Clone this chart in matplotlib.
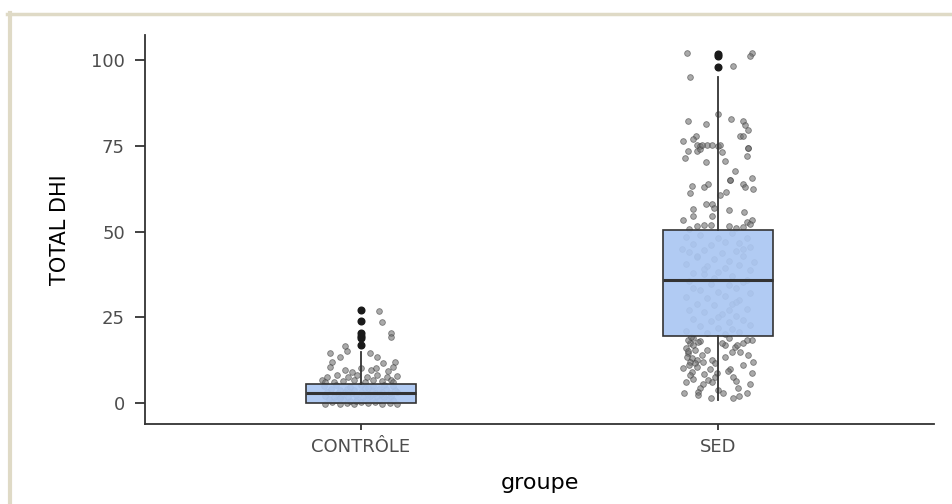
import matplotlib.pyplot as plt
from matplotlib.lines import Line2D

# groups and box statistics
groups = ['CONTRÔLE', 'SED']
q1 = [0, 19.5]
med = [3, 36]
q3 = [5.5, 50.5]
whis_lo = [0, 1]
whis_hi = [15, 95]
fliers = [[17, 19, 19.6, 20.3, 24, 27], [98, 101.3, 101.8]]

# jittered points: horizontal offset from the group centre and value
ctrl_dx = [0.051, 0.058, 0.083, 0.083, -0.045, -0.040, -0.087, -0.059, 0.025, 0.044,
           -0.082, -0.087, 0.062, 0.095, 0.090, -0.045, -0.026, 0.0, 0.029, 0.043, 0.076,
           -0.096, -0.068, -0.035, -0.012, 0.016, 0.044, 0.072, 0.1,
           -0.11, -0.077, -0.05, -0.02, 0.01, 0.035, 0.06, 0.085, -0.1, 0.09,
           -0.1, -0.08, -0.06, -0.04, -0.02, 0.0, 0.02, 0.04, 0.06, 0.08, 0.1,
           -0.09, -0.07, -0.05, -0.03, -0.01, 0.01, 0.03, 0.05, 0.07, 0.09,
           -0.1, -0.075, -0.055, -0.035, -0.015, 0.005, 0.025, 0.045, 0.065, 0.085,
           -0.095, -0.065, -0.045, -0.025, 0.0, 0.02, 0.04, 0.06, 0.08, 0.1,
           -0.085, -0.06, -0.04, -0.02, 0.01, 0.03, 0.05, 0.07, 0.095,
           -0.105, -0.07, -0.03, 0.0, 0.035, 0.065, 0.09,
           -0.06, 0.02, 0.055, -0.015]
ctrl_y = [26.9, 23.5, 20.3, 19.2, 16.6, 15.2, 14.7, 13.3, 14.7, 13.3,
          12.0, 10.4, 11.6, 12.0, 10.4, 9.6, 9.1, 10.1, 9.6, 10.1, 9.4,
          7.7, 8.2, 7.7, 8.2, 7.7, 8.2, 7.7, 8.0,
          6.7, 6.2, 6.5, 6.7, 6.2, 6.8, 6.5, 6.7, 6.0, 6.0,
          -0.3, 0.2, -0.2, 0.1, -0.3, 0.3, -0.1, 0.2, -0.3, 0.1, -0.2,
          1.2, 0.8, 1.1, 0.7, 1.3, 0.9, 1.2, 0.8, 1.1, 0.9,
          2.1, 1.8, 2.2, 1.9, 2.3, 1.7, 2.0, 2.2, 1.8, 2.1,
          3.2, 2.8, 3.1, 2.9, 3.3, 2.7, 3.0, 3.2, 2.8, 3.1,
          4.1, 3.8, 4.2, 3.9, 4.3, 3.7, 4.0, 4.2, 3.8,
          5.0, 5.3, 4.8, 5.2, 4.9, 5.4, 5.1,
          1.5, 4.5, 2.5, 0.5]

sed_dx = [-0.087, 0.094, 0.090, 0.041, -0.078, 0.0, -0.083, -0.034, 0.036, 0.069,
          0.076, 0.085, 0.062, 0.071, -0.062, -0.069, -0.099, 0.085, 0.085, -0.06,
          -0.05, -0.03, 0.0, -0.084, -0.06, -0.05, -0.046, -0.018, 0.006, -0.092,
          -0.034, 0.01, 0.02, 0.08, 0.048, 0.094, 0.034, 0.034, -0.074, -0.04,
          -0.029, 0.071, 0.076, 0.097, -0.078, 0.006, 0.022, -0.034, -0.018, -0.011,
          -0.07, 0.032, 0.074, -0.07, -0.017, -0.097, 0.094, 0.080, 0.09,
          -0.06, -0.04, -0.02, 0.03, 0.05, 0.07, -0.08,
          -0.09, -0.05, 0.0, 0.04, 0.08, -0.07, -0.02, 0.02, 0.06, 0.09,
          -0.08, -0.04, 0.01, 0.05, -0.06, -0.01, 0.03, 0.07, -0.09, -0.03,
          0.02, 0.06, 0.09, -0.07, -0.04, 0.0, 0.04, -0.08, -0.02, 0.03,
          0.07, -0.05, 0.0, 0.05, 0.09, -0.09, -0.03, 0.02, 0.06, -0.06,
          -0.01, 0.04, 0.08, -0.08, -0.04, 0.01, 0.05, -0.07, -0.02, 0.03,
          0.07, -0.05, 0.0, 0.04, 0.09, -0.09, -0.03, 0.02, 0.06, -0.06,
          0.08, -0.1, 0.1, -0.01, 0.03, -0.07, 0.05, -0.04, 0.07, 0.0,
          -0.078, -0.069, -0.083, -0.087, -0.074, -0.06, -0.078, -0.064, -0.041, -0.032,
          -0.018, -0.046, -0.097, -0.074, -0.078, -0.022, -0.004, -0.008, -0.041, -0.027,
          -0.018, -0.05, -0.055, -0.094, -0.055, 0.001, 0.015, 0.041, 0.057, 0.08,
          0.034, 0.029, 0.043, 0.094, 0.097, 0.085, 0.062, 0.048, 0.038, 0.02,
          0.01, 0.052, 0.071, 0.094, 0.080, -0.008,
          -0.085, -0.07, -0.05, -0.09, -0.065, -0.08, -0.06, -0.07, -0.09, -0.04,
          0.02, 0.07, 0.05, 0.09, -0.02, 0.06, -0.075, 0.03, -0.055, -0.085]
sed_y = [102.1, 102.1, 101.2, 98.4, 95.0, 84.2, 82.3, 81.4, 82.7, 82.3,
         81.2, 79.6, 78.0, 78.0, 78.0, 77.1, 76.5, 74.4, 74.4, 75.2,
         75.0, 75.3, 75.0, 73.6, 73.6, 74.0, 75.2, 75.2, 75.2, 71.5,
         70.2, 73.1, 70.7, 71.9, 67.7, 65.7, 64.9, 64.9, 63.3, 63.1,
         63.8, 64.0, 63.1, 62.4, 61.1, 60.8, 61.6, 57.9, 57.9, 56.9,
         56.6, 56.3, 55.8, 54.6, 54.6, 53.4, 53.4, 52.7, 52.2,
         51.5, 51.8, 52.0, 51.6, 51.0, 51.3, 50.8,
         48.5, 49.0, 48.0, 49.5, 48.2, 46.5, 46.0, 47.0, 46.8, 45.5,
         44.0, 44.5, 43.8, 44.2, 42.5, 42.0, 41.5, 42.8, 40.5, 40.0,
         39.5, 40.2, 38.8, 38.0, 37.5, 38.2, 37.0, 35.5, 34.8, 34.5,
         35.2, 33.0, 32.5, 33.5, 32.0, 31.0, 30.5, 31.2, 30.0, 29.0,
         28.5, 28.8, 27.5, 27.0, 26.5, 26.0, 25.5, 24.5, 24.0, 23.5,
         24.2, 22.5, 22.0, 21.5, 22.8, 21.0, 20.5, 20.2, 20.8, 43.0,
         36.0, 45.0, 41.0, 36.5, 27.0, 33.5, 29.5, 39.0, 45.0, 25.0,
         17.4, 16.9, 14.5, 13.5, 13.0, 12.7, 12.0, 11.6, 12.0, 15.6,
         12.7, 14.0, 10.1, 9.1, 8.2, 9.8, 8.7, 7.7, 5.7, 6.7,
         6.2, 4.3, 3.3, 2.8, 2.3, 3.8, 3.0, 1.4, 4.3, 3.0,
         9.8, 9.3, 7.7, 8.7, 12.0, 14.0, 15.0, 16.4, 15.0, 16.9,
         17.4, 16.9, 17.4, 18.4, 18.4, 11.6,
         18.5, 19.0, 18.0, 16.0, 15.5, 11.0, 10.5, 7.0, 6.0, 8.5,
         13.5, 11.0, 6.5, 5.5, 1.5, 2.0, 19.3, 19.0, 17.8, 15.2]

ink = '#333333'
fig = plt.figure(figsize=(9.52, 5.04), dpi=100)
ax = fig.add_axes([145 / 952, 1 - 424 / 504, (934 - 145) / 952, (424 - 35) / 504])

# beige frame round the picture (only top and left are visible)
fig.add_artist(Line2D([7 / 952, 1], [1 - 14 / 504] * 2, color='#DFDAC6', lw=2.5,
                      transform=fig.transFigure))
fig.add_artist(Line2D([10 / 952] * 2, [0, 1 - 13 / 504], color='#DFDAC6', lw=3,
                      transform=fig.transFigure))

pt = dict(s=17, color='#707070', edgecolor='#404040', linewidth=0.6, alpha=0.6, zorder=1)
ax.scatter([0 + d for d in ctrl_dx], ctrl_y, **pt)
ax.scatter([1 + d for d in sed_dx], sed_y, **pt)

stats = []
for i in range(len(groups)):
    stats.append(dict(med=med[i], q1=q1[i], q3=q3[i], whislo=whis_lo[i],
                      whishi=whis_hi[i], fliers=fliers[i]))
ax.bxp(stats, positions=[0, 1], widths=0.308, patch_artist=True, showcaps=False,
       boxprops=dict(facecolor=(0.67, 0.78, 0.95, 0.92), edgecolor=ink, linewidth=1.2),
       medianprops=dict(color=ink, linewidth=2.2),
       whiskerprops=dict(color=ink, linewidth=1.3),
       flierprops=dict(marker='o', markerfacecolor='#1a1a1a', markeredgecolor='#1a1a1a',
                       markersize=4.8),
       zorder=2)

ax.set_xlim(-0.605, 1.605)
ax.set_ylim(-6.1, 107.3)
ax.set_xticks([0, 1])
ax.set_xticklabels(groups)
ax.set_yticks([0, 25, 50, 75, 100])
ax.set_xlabel('groupe', fontsize=16, color='black', labelpad=12)
ax.set_ylabel('TOTAL DHI', fontsize=15, color='black', labelpad=15)

for s in ['top', 'right']:
    ax.spines[s].set_visible(False)
for s in ['left', 'bottom']:
    ax.spines[s].set_color(ink)
    ax.spines[s].set_linewidth(1.3)
ax.tick_params(axis='y', length=7.5, width=1.3, color=ink, labelsize=13,
               labelcolor='#4d4d4d', pad=7)
ax.tick_params(axis='x', length=4, width=1.3, color=ink, labelsize=13,
               labelcolor='#4d4d4d', pad=6)

fig.savefig('out.png', dpi=100)
